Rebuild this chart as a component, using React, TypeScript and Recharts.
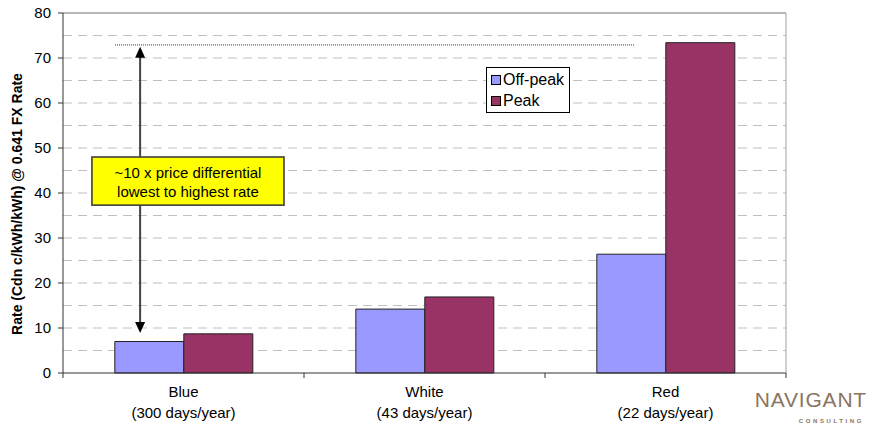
import React from "react";
import {
  BarChart,
  Bar,
  XAxis,
  YAxis,
  CartesianGrid,
  ReferenceLine,
  ReferenceArea,
  Legend,
} from "recharts";

const categories = ["Blue", "White", "Red"];
const dayLabels = ["(300 days/year)", "(43 days/year)", "(22 days/year)"];
const offPeak = [7.0, 14.2, 26.4];
const peak = [8.7, 16.9, 73.4];
const seriesNames = ["Off-peak", "Peak"];
const seriesColors = ["#9999ff", "#993366"];
const yTicks = [0, 10, 20, 30, 40, 50, 60, 70, 80];
const gridValues = [5, 10, 15, 20, 25, 30, 35, 40, 45, 50, 55, 60, 65, 70, 75];
const yLabel = "Rate (Cdn c/kWh/kWh) @ 0.641 FX Rate";
const boxLines = ["~10 x price differential", "lowest to highest rate"];
// annotation positions in category units (0..3) and rate values
const catPositions = [0.5, 1.5, 2.5];
const topLineY = 72.9;
const topLineX = [0.216, 2.373];
const arrowX = 0.32;
const arrowTop = 72.5;
const arrowBottom = 8.9;
const boxX = [0.12, 0.917];
const boxY = [37.3, 48];

const data = categories.map((c, i) => ({
  name: c,
  pos: catPositions[i],
  days: dayLabels[i],
  offPeak: offPeak[i],
  peak: peak[i],
}));

const FONT = "'Liberation Sans', Arial, sans-serif";

const CatTick = (props: any) => {
  const { x, y, payload, index } = props;
  const off = payload.offset || 0;
  const d = dayLabels[index];
  return (
    <g>
      <line x1={x - off} x2={x - off} y1={y - 5} y2={y} stroke="#333" />
      {index === categories.length - 1 && (
        <line x1={x + off} x2={x + off} y1={y - 5} y2={y} stroke="#333" />
      )}
      <text x={x} y={y + 19} textAnchor="middle" fontSize={15} fontFamily={FONT} fill="#000">
        {payload.value}
      </text>
      <text x={x} y={y + 40} textAnchor="middle" fontSize={15} fontFamily={FONT} fill="#000">
        {d}
      </text>
    </g>
  );
};

const LegendContent = () => (
  <div
    style={{
      border: "1px solid #000",
      background: "#fff",
      padding: "1px 5px 1px 4px",
      fontFamily: FONT,
      fontSize: 16,
      lineHeight: "21px",
      color: "#000",
    }}
  >
    {seriesNames.map((n, i) => (
      <div key={n} style={{ display: "flex", alignItems: "center", whiteSpace: "nowrap" }}>
        <span
          style={{
            display: "inline-block",
            width: 8,
            height: 8,
            background: seriesColors[i],
            border: "1px solid #000",
            marginRight: 2,
          }}
        />
        {n}
      </div>
    ))}
  </div>
);

const ArrowTopShape = (p: any) => {
  const { x1, y1, x2, y2 } = p;
  return (
    <g>
      <line x1={x1} y1={y1 + 8} x2={x2} y2={y2} stroke="#444" strokeWidth={2} />
      <polygon points={`${x1},${y1} ${x1 - 5},${y1 + 11} ${x1 + 5},${y1 + 11}`} fill="#000" />
    </g>
  );
};

const ArrowBottomShape = (p: any) => {
  const { x1, y1, x2, y2 } = p;
  const top = Math.min(y1, y2);
  const bot = Math.max(y1, y2);
  return (
    <g>
      <line x1={x1} y1={top} x2={x2} y2={bot - 8} stroke="#444" strokeWidth={2} />
      <polygon points={`${x2},${bot} ${x2 - 5},${bot - 11} ${x2 + 5},${bot - 11}`} fill="#000" />
    </g>
  );
};

const BoxShape = (p: any) => {
  const { x, y, width, height } = p;
  return (
    <g>
      <rect x={x} y={y} width={width} height={height} fill="#ffff00" stroke="#333" strokeWidth={1.5} />
      {boxLines.map((l, i) => (
        <text
          key={i}
          x={x + width / 2}
          y={y + 21 + i * 19}
          textAnchor="middle"
          fontSize={15}
          fontFamily={FONT}
          fill="#000"
        >
          {l}
        </text>
      ))}
    </g>
  );
};

const YLabel = () => {
  const cx = 17;
  const cy = 204;
  return (
    <text
      x={cx}
      y={cy}
      transform={`rotate(-90 ${cx} ${cy})`}
      textAnchor="middle"
      dominantBaseline="central"
      fontSize={14}
      fontWeight="bold"
      fontFamily={FONT}
      fill="#000"
    >
      {yLabel}
    </text>
  );
};

export default function App() {
  return (
    <div style={{ position: "absolute", left: 0, top: 0, width: 871, height: 425, background: "#fff" }}>
      <BarChart
        width={871}
        height={425}
        data={data}
        margin={{ top: 13, right: 84, bottom: 0, left: 0 }}
        barCategoryGap="21.5%"
        barGap={0}
      >
        <CartesianGrid
          vertical={false}
          horizontalValues={gridValues}
          stroke="#c0c0c0"
          strokeDasharray="9 6"
          yAxisId="left"
          xAxisId="cat"
        />
        <XAxis
          xAxisId="cat"
          dataKey="name"
          height={52}
          tickLine={false}
          tickSize={5}
          tickMargin={0}
          axisLine={{ stroke: "#333" }}
          tick={<CatTick />}
          interval={0}
        />
        <XAxis xAxisId="n" dataKey="pos" type="number" domain={[0, 3]} hide allowDataOverflow />
        <YAxis
          yAxisId="left"
          width={63}
          domain={[0, 80]}
          ticks={yTicks}
          interval={0}
          tickSize={5}
          tickMargin={7}
          axisLine={{ stroke: "#333" }}
          tickLine={{ stroke: "#333" }}
          tick={{ fontSize: 15, fontFamily: FONT, fill: "#000" }}
          label={<YLabel />}
        />
        <YAxis
          yAxisId="right"
          orientation="right"
          width={1}
          domain={[0, 80]}
          tick={false}
          tickLine={false}
          axisLine={{ stroke: "#a0a0a0" }}
        />
        <ReferenceLine yAxisId="left" xAxisId="cat" y={80} stroke="#a0a0a0" strokeWidth={1.5} />
        <Bar
          xAxisId="cat"
          yAxisId="left"
          dataKey="offPeak"
          name={seriesNames[0]}
          fill={seriesColors[0]}
          stroke="#222"
          strokeWidth={1}
          isAnimationActive={false}
        />
        <Bar
          xAxisId="cat"
          yAxisId="left"
          dataKey="peak"
          name={seriesNames[1]}
          fill={seriesColors[1]}
          stroke="#222"
          strokeWidth={1}
          isAnimationActive={false}
        />
        <ReferenceLine
          xAxisId="n"
          yAxisId="left"
          segment={[
            { x: topLineX[0], y: topLineY },
            { x: topLineX[1], y: topLineY },
          ]}
          stroke="#333"
          strokeDasharray="1 1"
        />
        <ReferenceLine
          xAxisId="n"
          yAxisId="left"
          segment={[
            { x: arrowX, y: arrowTop },
            { x: arrowX, y: boxY[1] },
          ]}
          shape={ArrowTopShape}
        />
        <ReferenceLine
          xAxisId="n"
          yAxisId="left"
          segment={[
            { x: arrowX, y: boxY[0] },
            { x: arrowX, y: arrowBottom },
          ]}
          shape={ArrowBottomShape}
        />
        <ReferenceArea
          xAxisId="n"
          yAxisId="left"
          x1={boxX[0]}
          x2={boxX[1]}
          y1={boxY[0]}
          y2={boxY[1]}
          shape={BoxShape}
        />
        <Legend
          layout="vertical"
          align="center"
          verticalAlign="middle"
          content={<LegendContent />}
          wrapperStyle={{ left: 486, top: 67, width: "auto", height: "auto" }}
        />
      </BarChart>
      <svg
        width={871}
        height={425}
        style={{ position: "absolute", left: 0, top: 0, pointerEvents: "none" }}
      >
        <text
          x={867}
          y={407}
          textAnchor="end"
          fontSize={21}
          letterSpacing={0.8}
          fontFamily={FONT}
          fill="#8a7560"
        >
          NAVIGANT
        </text>
        <text
          x={864}
          y={423}
          textAnchor="end"
          fontSize={6}
          fontWeight="bold"
          letterSpacing={2.6}
          fontFamily={FONT}
          fill="#8a7560"
        >
          CONSULTING
        </text>
      </svg>
    </div>
  );
}
